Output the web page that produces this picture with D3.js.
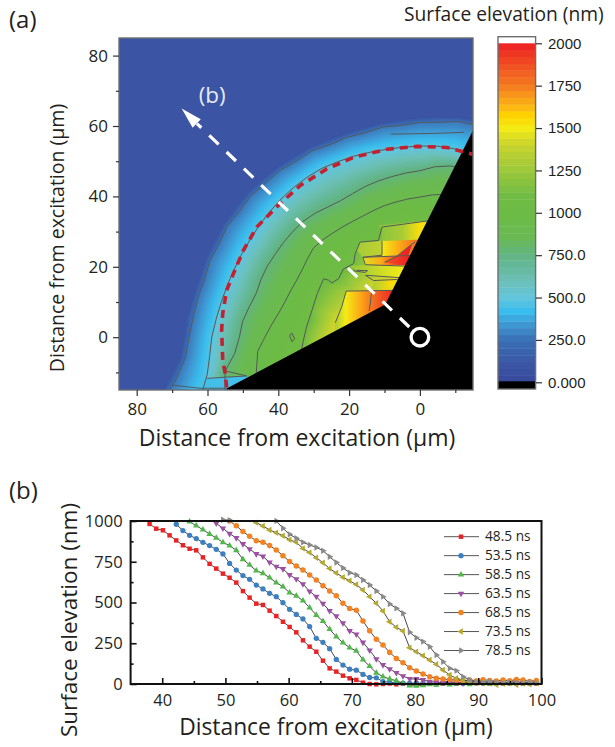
<!DOCTYPE html>
<html>
<head>
<meta charset="utf-8">
<script src="https://cdn.jsdelivr.net/npm/d3@7"></script>
<style>
    html, body { margin: 0; padding: 0; background: #fff; }
    svg { display: block; }
    text { font-family: "Open Sans", sans-serif; fill: #231f20; }
    .num text, text.num { font-family: "Liberation Sans", sans-serif; }
</style>
</head>
<body>
<div id="chart"></div>
<script>
// elevation colour key
var keyValues = [0, 100, 250, 350, 420, 500, 600, 750, 850, 1000, 1100, 1250, 1400, 1500, 1575, 1625, 1750, 2000];
var keyColors = ["#39499c", "#3b55a4", "#3a6fb5", "#3f9bd5", "#39bdee", "#62c5dc", "#6cc0b8", "#62b483", "#6aba55", "#6cbb45", "#70bc44", "#9cc93b", "#c8d32e", "#f4eb15", "#ffd400", "#fdb813", "#f47b20", "#ee2024"];
var barTicks = [0, 250, 500, 750, 1000, 1250, 1500, 1750, 2000];
var barLabels = ["0.000", "250.0", "500.0", "750.0", "1000", "1250", "1500", "1750", "2000"];

// panel (a): contour radii in um around the excitation point, per angle in degrees
var angles = [-30, -25, -20, -15, -10, -5, 0, 5, 10, 15, 20, 25, 30, 35, 40, 45, 50, 55, 60, 65, 70, 75, 80, 85, 90, 95, 100, 105];
var rBase = [84, 84, 82, 79, 72.5, 68.2, 66.8, 66.3, 65.3, 64.8, 64.6, 64.4, 64.2, 64, 63.8, 63.5, 63.1, 62.7, 62.4, 62, 61.7, 61.8, 61.9, 62.1, 62.4, 63, 63.5, 64];
var r250 = [80, 80, 78, 76, 70, 66.5, 65.2, 64.3, 63.7, 63, 63.2, 62.6, 62.9, 62.2, 62.4, 61.8, 61.7, 61, 61.1, 60.3, 60.4, 60.1, 60.6, 60.4, 61, 61.3, 62.2, 62.3];
var r500 = [68, 68, 66, 64, 61, 59.6, 58.8, 57.8, 57, 56.4, 55.9, 55.6, 55.4, 55.4, 55.4, 55.5, 55.5, 55.5, 55.4, 55, 54.7, 54.4, 54.2, 54.2, 54.3, 54.5, 54.4, 54.4];
var r750 = [60, 60, 58, 57, 55.9, 52.5, 51, 50.3, 49, 47.9, 47.8, 47.6, 47.2, 47, 46.8, 46.6, 46, 45.2, 44.8, 45, 45.5, 45.9, 46.3, 46.8, 47.3, 48.6, 49.4, 49.5];
var r1000 = [50, 50, 49, 48, 46.8, 46, 43.8, 42, 40.4, 39.4, 38.8, 38.4, 38.4, 38.8, 39.3, 39, 38.5, 38.2, 38, 38, 38.3, 38.7, 39, 39.4, 39.8, 40.6, 41.2, 41.5];
var r1250 = [36, 36, 35.5, 35, 34.5, 33.5, 33, 32, 31.2, 32, 31.8, 31.5, 31, 28.6, 28.8, 28.4, 29, 31, 31.5, 30.3, 32.5, 33, 33, 33, 33, 33, 33, 33];
var r1450 = [25, 25, 25.5, 26, 26, 26.5, 26, 25, 24.5, 24, 22, 21, 20, 20, 20, 20, 20, 20, 20, 20, 20, 20, 20, 20, 20, 20, 20, 20];
var fieldLevels = [90, 280, 480, 780, 950, 1100, 1420];
var fieldRadii = [rBase, r250, r500, r750, r1000, r1250, r1450];
var lineLevels = [r250, r500, r750, r1000];

// jagged hot stripes near the wedge: outline in um, then elevation along x
var hotPolys = [
    [[16.9, 27], [10.7, 27.3], [10.7, 23], [16.1, 22.7], [17.8, 24.7]],
    [[11.7, 31.7], [-2, 33], [0.6, 27.7], [10.7, 27.3], [10.7, 30.5]],
    [[10.7, 27.3], [0.6, 27.7], [2.7, 23.2], [10.7, 23]],
    [[16.1, 22.7], [2.7, 23.2], [4.1, 20.4], [15.4, 20.4]],
    [[10, 21.3], [6.9, 22.7], [2.2, 26.5], [4.1, 20.4]],
    [[20.1, 20.4], [4.1, 20.4], [5.5, 16.9], [15.4, 17.6]],
    [[13.1, 16.1], [6.3, 16.9], [7.9, 13.3], [13.6, 13.5]],
    [[23.9, 4.1], [22.1, 8.6], [20.8, 13.1], [7.6, 13.3], [8, 1], [24, 1]]
];
var hotX = [
    [17.5, 10.7],
    [11.7, 5, 0],
    [10.7, 6, 1],
    [16, 11, 7.5, 3],
    [9, 3],
    [20, 5],
    [13.6, 8],
    [24, 21, 17, 13.3, 8.5]
];
var hotV = [
    [1280, 1380],
    [1180, 1290, 1540],
    [1500, 1650, 1790],
    [1450, 1650, 1850, 1980],
    [1880, 2000],
    [1220, 1500],
    [1300, 1550],
    [1300, 1500, 1650, 1780, 1950]
];
var hotLines = [
    [[33.5, -4], [33, -1.3], [32, 3], [30.5, 7.6], [29, 12.4], [27.2, 16.6], [25.8, 16.2], [24.9, 15.4], [23, 16.6], [21.6, 19.4], [18.7, 20.9], [18.3, 23.7], [16.9, 27], [11.7, 27.5], [10.7, 31.3], [-2, 33]],
    [[10.7, 27.3], [10.7, 23.3], [16.1, 22.7], [15.4, 20.6], [4.3, 20.2]],
    [[16.1, 22.7], [2.8, 23.2]],
    [[10, 21.3], [6.9, 22.7], [2.2, 26.5], [1.4, 27]],
    [[15.4, 17.6], [5.5, 16.9]],
    [[15.4, 17.6], [13.1, 16.1], [6.3, 16.4]],
    [[23.9, 4.1], [22.1, 8.6], [20.8, 13.1], [7.6, 13.3]],
    [[13.6, 13.5], [13.9, 10.5], [14.3, 7.5]],
    [[19, 18.9], [15.5, 18.4], [14.8, 18.9], [17.8, 19]]
];
var extraLines = [
    [[70.2, -13.6], [62.1, -14.5], [54.6, -14.5]],
    [[60.1, -11.7], [48.9, -11], [54.9, -9.6]],
    [[8.3, 57.7], [-4, 57.9], [-12.5, 58.2]],
    [[36.1, -1.3], [36.8, 0.4], [36.2, 1.2], [35.4, -0.4], [36.1, -1.3]]
];
var bottomPatch = [[60.1, -11.7], [48.9, -11], [46, -15.5], [66, -15.5]];
var wedge = [[54.6, -14.6], [9.8, 9.3], [-15, 58.8], [-15, -15], [54.6, -15]];
var redDash = [[54.6, -14.3], [55, -10.3], [55.7, -6.5], [56, 2], [55.7, 6.7], [54.6, 13.3], [52.7, 18], [49.9, 24.6], [46.1, 31.3], [39.5, 37.9], [33.8, 43.1], [26.3, 47.8], [18.7, 51.1], [9.3, 53.4], [0.8, 54.2], [-7.7, 53.9], [-14.8, 52]];
var whiteDash = [[3, 2.9], [63, 60.7]];
var arrowHead = [[67.3, 65], [61.9, 61.9], [64.2, 59.5]];

// panel (b): sample spacing and the series, each starting at its own sample index
var sampleStart = 38, sampleStep = 1.055;
var seriesNames = ["48.5 ns", "53.5 ns", "58.5 ns", "63.5 ns", "68.5 ns", "73.5 ns", "78.5 ns"];
var seriesColors = ["#ed2024", "#3b80c3", "#4fb848", "#9e4fa5", "#f58220", "#b5a92f", "#8a8a8a"];
var seriesOffsets = [0, 4, 6, 10, 12, 16, 11];
var s485 = [982, 953, 943, 912, 881, 851, 830, 820, 777, 737, 708, 677, 652, 622, 570, 530, 493, 485, 450, 417, 382, 350, 317, 268, 229, 198, 143, 96, 76, 51, 35, 25, 8, 0, -2, 0, 3, -2, 1, 2, 4, 1, 3, 5, 3, 4, 2, 6, 3, 5, 8, 4, 6, 3, 7, 5, 4, 6, 3];
var s535 = [980, 941, 912, 892, 869, 849, 826, 798, 740, 699, 665, 642, 607, 583, 556, 536, 499, 458, 427, 399, 352, 280, 256, 217, 151, 116, 91, 85, 59, 40, 38, 15, 10, 8, 5, 4, 6, 3, 5, 2, 6, 4, 7, 3, 5, 8, 4, 6, 3, 5, 7, 4, 6, 3, 5];
var s585 = [996, 971, 947, 920, 896, 869, 849, 820, 765, 730, 695, 679, 652, 622, 597, 560, 540, 511, 468, 423, 385, 336, 290, 253, 223, 203, 149, 109, 68, 45, 31, 20, 4, -10, -12, -8, -3, -6, 2, -4, 0, 5, -2, 3, 6, 1, 4, 8, 2, 5, 3, 7, 4];
var s635 = [986, 955, 922, 896, 859, 828, 798, 783, 746, 720, 706, 669, 644, 613, 569, 536, 493, 449, 417, 374, 326, 305, 255, 207, 153, 117, 92, 69, 49, 31, 31, 25, 14, 12, 8, 14, 10, 6, 12, 15, 9, 11, 7, 13, 10, 16, 8, 12, 9];
var s685 = [1000, 971, 935, 906, 879, 869, 849, 822, 787, 751, 724, 699, 669, 638, 603, 571, 541, 495, 463, 452, 387, 326, 275, 239, 194, 157, 131, 100, 80, 61, 45, 35, 31, 27, 25, 20, 24, 18, 26, 22, 18, 25, 20, 27, 24, 16, 22];
var s735 = [990, 969, 945, 928, 910, 885, 869, 832, 806, 775, 744, 708, 681, 655, 633, 610, 577, 536, 495, 448, 382, 348, 325, 223, 198, 174, 147, 121, 86, 55, 35, 25, 14, 8, 4, 3, -4, 2, 5, -5, 3, -2, 4];
var s785 = [1008, 1004, null, null, null, null, null, null, 1000, 955, 918, 894, 869, 853, 838, 818, 781, 745, 712, 683, 669, 638, 607, 570, 536, 491, 464, 434, 317, 284, 260, 229, 178, 137, 96, 82, 45, 25, 14, 10, 15, 12, 6, 8, 11, 5, 9, 7];
var seriesValues = [s485, s535, s585, s635, s685, s735, s785];

var width = 615, height = 747;
var svg = d3.select("#chart").append("svg").attr("width", width).attr("height", height);

var color = d3.scaleLinear().domain(keyValues).range(keyColors);

// ---- panel (a) ----
var ax = d3.scaleLinear().domain([85, -15]).range([119, 473]);
var ay = d3.scaleLinear().domain([-15, 85]).range([390, 38]);

function pathOf(points) {
    return d3.line().x(function (d) { return ax(d[0]); }).y(function (d) { return ay(d[1]); })(points);
}
function polar(radii) {
    return radii.map(function (r, i) {
        var t = angles[i] * Math.PI / 180;
        return [r * Math.cos(t), r * Math.sin(t)];
    });
}

svg.append("clipPath").attr("id", "frame-a").append("rect")
    .attr("x", ax.range()[0]).attr("y", ay.range()[1])
    .attr("width", ax.range()[1] - ax.range()[0]).attr("height", ay.range()[0] - ay.range()[1]);

var defs = svg.append("defs");
var field = svg.append("g").attr("clip-path", "url(#frame-a)");

field.append("rect")
    .attr("x", ax.range()[0]).attr("y", ay.range()[1])
    .attr("width", ax.range()[1] - ax.range()[0]).attr("height", ay.range()[0] - ay.range()[1])
    .attr("fill", color(90));

// nested bands, low to high
d3.range(100, 1420, 15).forEach(function (level) {
    var radii = angles.map(function (a, i) {
        var scale = d3.scaleLinear().domain(fieldLevels).range(fieldRadii.map(function (r) { return r[i]; }));
        return scale(level);
    });
    field.append("path")
        .attr("d", pathOf(polar(radii).concat([[0, 0]])) + "Z")
        .attr("fill", color(level));
});

field.append("path").attr("d", pathOf(bottomPatch) + "Z").attr("fill", color(440));

lineLevels.forEach(function (radii) {
    field.append("path").attr("d", pathOf(polar(radii)))
        .attr("fill", "none").attr("stroke", "#55595a").attr("stroke-width", 1);
});
extraLines.forEach(function (points) {
    field.append("path").attr("d", pathOf(points))
        .attr("fill", "none").attr("stroke", "#55595a").attr("stroke-width", 1);
});

hotPolys.forEach(function (points, i) {
    var xs = hotX[i], grad = defs.append("linearGradient")
        .attr("id", "hot" + i).attr("gradientUnits", "userSpaceOnUse")
        .attr("x1", ax(xs[0])).attr("x2", ax(xs[xs.length - 1])).attr("y1", 0).attr("y2", 0);
    xs.forEach(function (x, j) {
        grad.append("stop")
            .attr("offset", (x - xs[0]) / (xs[xs.length - 1] - xs[0]))
            .attr("stop-color", color(hotV[i][j]));
    });
    field.append("path").attr("d", pathOf(points) + "Z").attr("fill", "url(#hot" + i + ")");
});
hotLines.forEach(function (points) {
    field.append("path").attr("d", pathOf(points))
        .attr("fill", "none").attr("stroke", "#55595a").attr("stroke-width", 1);
});

field.append("path").attr("d", pathOf(wedge) + "Z").attr("fill", "#000");

field.append("path").attr("d", pathOf(redDash))
    .attr("fill", "none").attr("stroke", "#c4202e").attr("stroke-width", 3.6).attr("stroke-dasharray", "8,6");
field.append("path").attr("d", pathOf(whiteDash))
    .attr("fill", "none").attr("stroke", "#fff").attr("stroke-width", 3.2).attr("stroke-dasharray", "13,11");
field.append("path").attr("d", pathOf(arrowHead) + "Z").attr("fill", "#fff");
field.append("circle")
    .attr("cx", ax(0)).attr("cy", ay(0)).attr("r", 8.8)
    .attr("fill", "none").attr("stroke", "#fff").attr("stroke-width", 3.4);
field.append("text").attr("x", ax(62.5)).attr("y", ay(66.5))
    .attr("font-size", 22.5).style("fill", "#e3e9f4").text("(b)");

svg.append("rect")
    .attr("x", ax.range()[0]).attr("y", ay.range()[1])
    .attr("width", ax.range()[1] - ax.range()[0]).attr("height", ay.range()[0] - ay.range()[1])
    .attr("fill", "none").attr("stroke", "#6d6e71").attr("stroke-width", 1.4);

function styleAxis(g, fontSize) {
    g.select(".domain").remove();
    g.selectAll("line").attr("stroke", "#333").attr("stroke-width", 1.2);
    g.selectAll("text").attr("font-size", fontSize).style("font-family", "'Open Sans', sans-serif").attr("fill", null);
}

svg.append("g").attr("transform", "translate(0,390)")
    .call(d3.axisBottom(ax).tickValues([0, 20, 40, 60, 80]).tickSize(6).tickPadding(7))
    .call(styleAxis, 17);
svg.append("g").attr("transform", "translate(0,390)")
    .call(d3.axisBottom(ax).tickValues([-10, 10, 30, 50, 70]).tickSize(3).tickFormat(""))
    .call(styleAxis, 17);
svg.append("g").attr("transform", "translate(119,0)")
    .call(d3.axisLeft(ay).tickValues([0, 20, 40, 60, 80]).tickSize(6).tickPadding(5))
    .call(styleAxis, 17);
svg.append("g").attr("transform", "translate(119,0)")
    .call(d3.axisLeft(ay).tickValues([-10, 10, 30, 50, 70]).tickSize(3).tickFormat(""))
    .call(styleAxis, 17);

svg.append("text").attr("x", 297).attr("y", 446).attr("text-anchor", "middle")
    .attr("font-size", 23).text("Distance from excitation (µm)");
svg.append("text").attr("transform", "translate(64,238) rotate(-90)").attr("text-anchor", "middle")
    .attr("font-size", 19.5).text("Distance from excitation (µm)");
svg.append("text").attr("x", 9).attr("y", 28).attr("font-size", 24).text("(a)");
svg.append("text").attr("x", 9).attr("y", 499).attr("font-size", 24).text("(b)");

// ---- colour bar ----
var by = d3.scaleLinear().domain([0, 2000]).range([382.3, 43.3]);
var bandSize = 40;
svg.append("rect").attr("x", 498).attr("y", 36.7).attr("width", 37.6).attr("height", 352.3).attr("fill", "#fff");
d3.range(0, 2000, bandSize).forEach(function (v) {
    svg.append("rect")
        .attr("x", 498).attr("y", by(v + bandSize))
        .attr("width", 37.6).attr("height", by(v) - by(v + bandSize) + 0.4)
        .attr("fill", color(v + bandSize / 2));
});
svg.append("rect").attr("x", 498).attr("y", by(0) - 1).attr("width", 37.6).attr("height", 389 - by(0) + 1).attr("fill", "#000");
svg.append("rect").attr("x", 498).attr("y", 36.7).attr("width", 37.6).attr("height", 352.3)
    .attr("fill", "none").attr("stroke", "#6d6e71").attr("stroke-width", 1.4);
var barAxis = svg.append("g").attr("class", "num").attr("transform", "translate(536,0)")
    .call(d3.axisRight(by).tickValues(barTicks).tickSize(6).tickPadding(6)
        .tickFormat(function (d, i) { return barLabels[i]; }));
barAxis.select(".domain").remove();
barAxis.selectAll("line").attr("stroke", "#333").attr("stroke-width", 1.2);
barAxis.selectAll("text").attr("font-size", 15).attr("fill", null);
svg.append("text").attr("x", 404).attr("y", 21).attr("font-size", 19.2).text("Surface elevation (nm)");

// ---- panel (b) ----
var bx = d3.scaleLinear().domain([35, 100]).range([130.6, 541.5]);
var byy = d3.scaleLinear().domain([0, 1000]).range([684, 521]);

var symbols = [
    d3.symbol().type(d3.symbolSquare).size(20),
    d3.symbol().type(d3.symbolCircle).size(22),
    d3.symbol().type(d3.symbolTriangle).size(18),
    d3.symbol().type(d3.symbolTriangle).size(18),
    d3.symbol().type(d3.symbolCircle).size(24),
    d3.symbol().type(d3.symbolTriangle).size(18),
    d3.symbol().type(d3.symbolTriangle).size(18)
];
var symbolTurn = [0, 0, 0, 180, 0, -90, 90];

seriesValues.forEach(function (values, s) {
    var pts = values.map(function (v, i) {
        return [sampleStart + sampleStep * (seriesOffsets[s] + i), v];
    });
    var group = svg.append("g");
    group.append("path")
        .attr("d", d3.line().defined(function (d) { return d[1] !== null; })
            .x(function (d) { return bx(d[0]); }).y(function (d) { return byy(d[1]); })(pts))
        .attr("fill", "none").attr("stroke", "#333").attr("stroke-width", 0.9);
    group.selectAll("path.mark").data(pts.filter(function (d) { return d[1] !== null; })).enter()
        .append("path").attr("class", "mark")
        .attr("d", symbols[s])
        .attr("transform", function (d) {
            return "translate(" + bx(d[0]) + "," + byy(d[1]) + ") rotate(" + symbolTurn[s] + ")";
        })
        .attr("fill", seriesColors[s]);
});

svg.append("rect")
    .attr("x", 130.6).attr("y", 521).attr("width", 410.9).attr("height", 163)
    .attr("fill", "none").attr("stroke", "#111").attr("stroke-width", 2);

function styleAxisB(g) {
    g.select(".domain").remove();
    g.selectAll("line").attr("stroke", "#111").attr("stroke-width", 1.6);
    g.selectAll("text").attr("font-size", 16.5).style("font-family", "'Open Sans', sans-serif").attr("fill", null);
}
svg.append("g").attr("transform", "translate(0,684)")
    .call(d3.axisBottom(bx).tickValues([40, 50, 60, 70, 80, 90, 100]).tickSizeInner(-6).tickSizeOuter(0).tickPadding(10))
    .call(styleAxisB);
svg.append("g").attr("transform", "translate(0,684)")
    .call(d3.axisBottom(bx).tickValues([45, 55, 65, 75, 85, 95]).tickSizeInner(-3).tickSizeOuter(0).tickFormat(""))
    .call(styleAxisB);
svg.append("g").attr("transform", "translate(130.6,0)")
    .call(d3.axisLeft(byy).tickValues([0, 250, 500, 750, 1000]).tickSizeInner(-6).tickSizeOuter(0).tickPadding(8).tickFormat(d3.format("d")))
    .call(styleAxisB);
svg.append("g").attr("transform", "translate(130.6,0)")
    .call(d3.axisLeft(byy).tickValues([125, 375, 625, 875]).tickSizeInner(-3).tickSizeOuter(0).tickFormat(""))
    .call(styleAxisB);

svg.append("text").attr("x", 336).attr("y", 735).attr("text-anchor", "middle")
    .attr("font-size", 22.8).text("Distance from excitation (µm)");
svg.append("text").attr("transform", "translate(77,620) rotate(-90)").attr("text-anchor", "middle")
    .attr("font-size", 22.5).text("Surface elevation (nm)");

// legend
var legendY = d3.scalePoint().domain(seriesNames).range([536.7, 650.5]);
seriesNames.forEach(function (name, s) {
    var y = legendY(name);
    svg.append("line").attr("x1", 444).attr("x2", 479).attr("y1", y).attr("y2", y)
        .attr("stroke", "#555").attr("stroke-width", 1);
    svg.append("path").attr("d", symbols[s])
        .attr("transform", "translate(461," + y + ") rotate(" + symbolTurn[s] + ")")
        .attr("fill", seriesColors[s]);
    svg.append("text").attr("x", 485).attr("y", y + 4.5).attr("font-size", 13.7).text(name);
});
</script>
</body>
</html>
